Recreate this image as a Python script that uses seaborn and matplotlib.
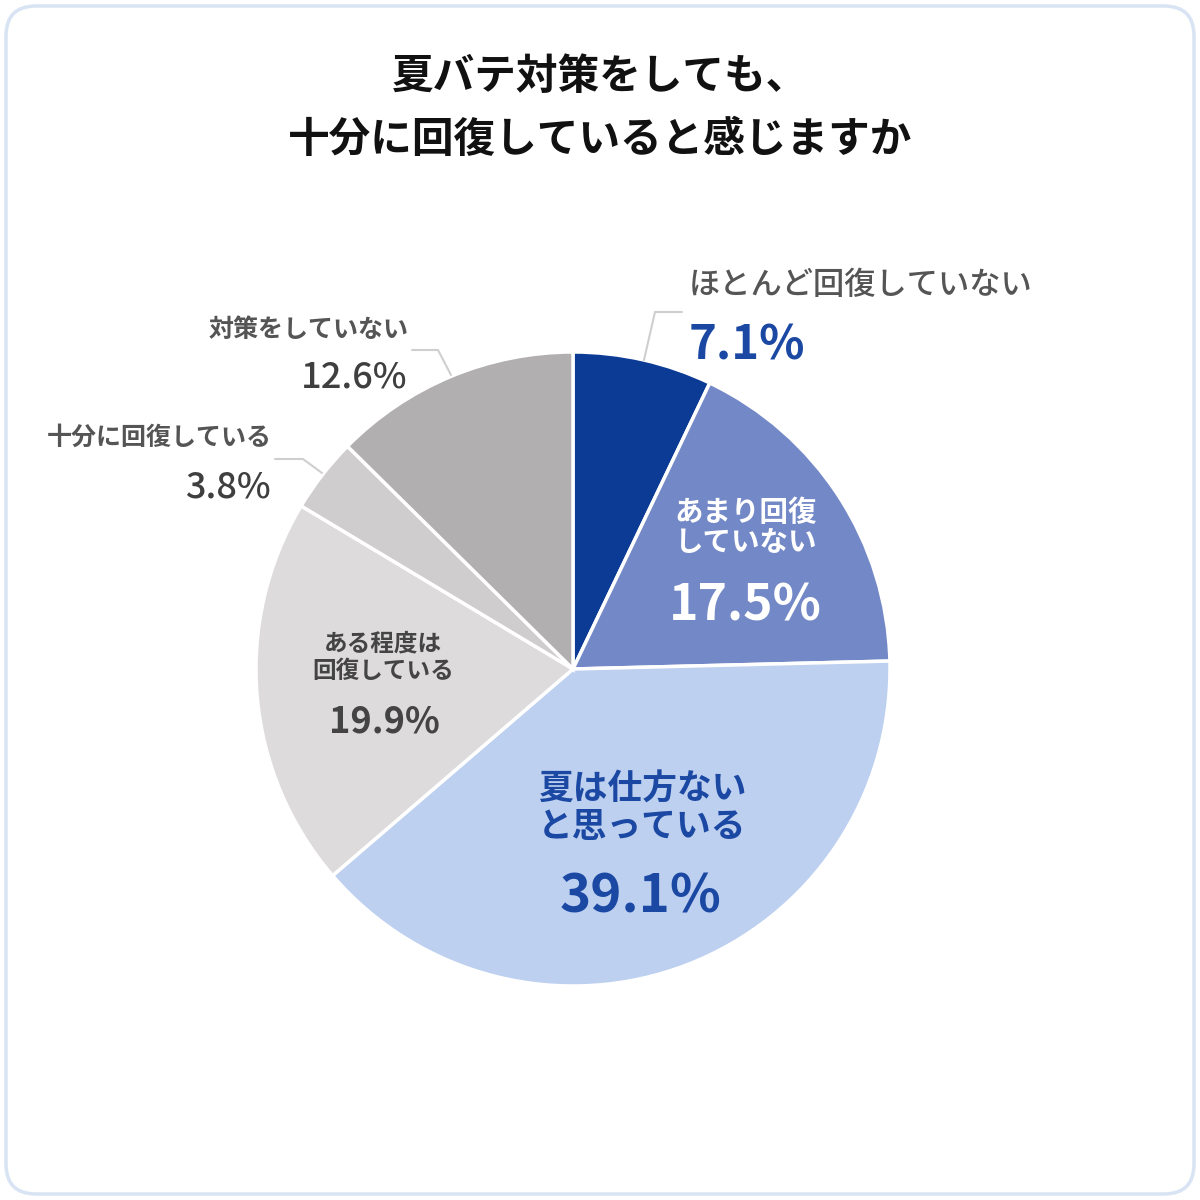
import matplotlib
matplotlib.use("Agg")
import matplotlib.pyplot as plt
from matplotlib.patches import FancyBboxPatch
import seaborn as sns

title_lines = ["夏バテ対策をしても、", "十分に回復していると感じますか"]
labels = ["ほとんど回復していない", "あまり回復\nしていない", "夏は仕方ない\nと思っている",
          "ある程度は\n回復している", "十分に回復している", "対策をしていない"]
values = [7.1, 17.5, 39.1, 19.9, 3.8, 12.6]
colors = ["#0b3b95", "#7388c6", "#bdd0f0", "#dddbdc", "#cfcdce", "#b2afb1"]

sns.set_theme(style="white")
plt.rcParams["font.family"] = ["Noto Sans CJK JP", "DejaVu Sans"]

fig = plt.figure(figsize=(12, 12), dpi=100)
ax = fig.add_axes([0, 0, 1, 1])

# rounded card border
fig.patches.append(FancyBboxPatch((0.005, 0.005), 0.99, 0.99,
                                  boxstyle="round,pad=0,rounding_size=0.025",
                                  transform=fig.transFigure, facecolor="white",
                                  edgecolor="#d8e3f3", linewidth=2.5, zorder=-1))

H = 1200
cx, cy, r = 573, H - 669, 317
ax.pie(values, colors=colors, startangle=90, counterclock=False,
       center=(cx, cy), radius=r, frame=True,
       wedgeprops=dict(edgecolor="white", linewidth=2.5))
ax.set_xlim(0, 1200)
ax.set_ylim(0, 1200)
ax.set_aspect("equal")
ax.axis("off")

# title
ax.text(600, H - 77, title_lines[0], ha="center", va="center", fontsize=30,
        fontweight="bold", color="#111111")
ax.text(600, H - 140, title_lines[1], ha="center", va="center", fontsize=30,
        fontweight="bold", color="#111111")

blue = "#1b48a3"
gray_lbl = "#555555"
gray_num = "#3f3f3f"
pct = [f"{v}%" for v in values]

# outside labels
ax.text(861, H - 285, labels[0], ha="center", va="center", fontsize=22.5,
        fontweight="medium", color=gray_lbl)
ax.text(747, H - 345, pct[0], ha="center", va="center", fontsize=34,
        fontweight="bold", color=blue)
ax.plot([644, 655, 682], [H - 360, H - 312, H - 312], color="#cfcfcf", lw=1.5)

ax.text(309, H - 330, labels[5], ha="center", va="center", fontsize=18,
        fontweight="bold", color=gray_lbl)
ax.text(354, H - 377, pct[5], ha="center", va="center", fontsize=26,
        fontweight="medium", color=gray_num)
ax.plot([412, 438, 451], [H - 350, H - 350, H - 375], color="#cfcfcf", lw=1.5)

ax.text(159, H - 438, labels[4], ha="center", va="center", fontsize=18,
        fontweight="bold", color=gray_lbl)
ax.text(228, H - 487, pct[4], ha="center", va="center", fontsize=26,
        fontweight="medium", color=gray_num)
ax.plot([275, 303, 322], [H - 459, H - 459, H - 473], color="#cfcfcf", lw=1.5)

# inside labels
ax.text(746, H - 528, labels[1], ha="center", va="center", fontsize=20.5,
        fontweight="bold", color="white", linespacing=1.05)
ax.text(745, H - 606, pct[1], ha="center", va="center", fontsize=36,
        fontweight="bold", color="white")

ax.text(642, H - 808, labels[2], ha="center", va="center", fontsize=25,
        fontweight="bold", color=blue, linespacing=1.1)
ax.text(641, H - 897, pct[2], ha="center", va="center", fontsize=38,
        fontweight="bold", color=blue)

ax.text(383, H - 657, labels[3], ha="center", va="center", fontsize=17,
        fontweight="bold", color="#444444", linespacing=1.2)
ax.text(384, H - 722, pct[3], ha="center", va="center", fontsize=26,
        fontweight="bold", color="#444444")

fig.savefig("out.png", dpi=100, facecolor="white")
